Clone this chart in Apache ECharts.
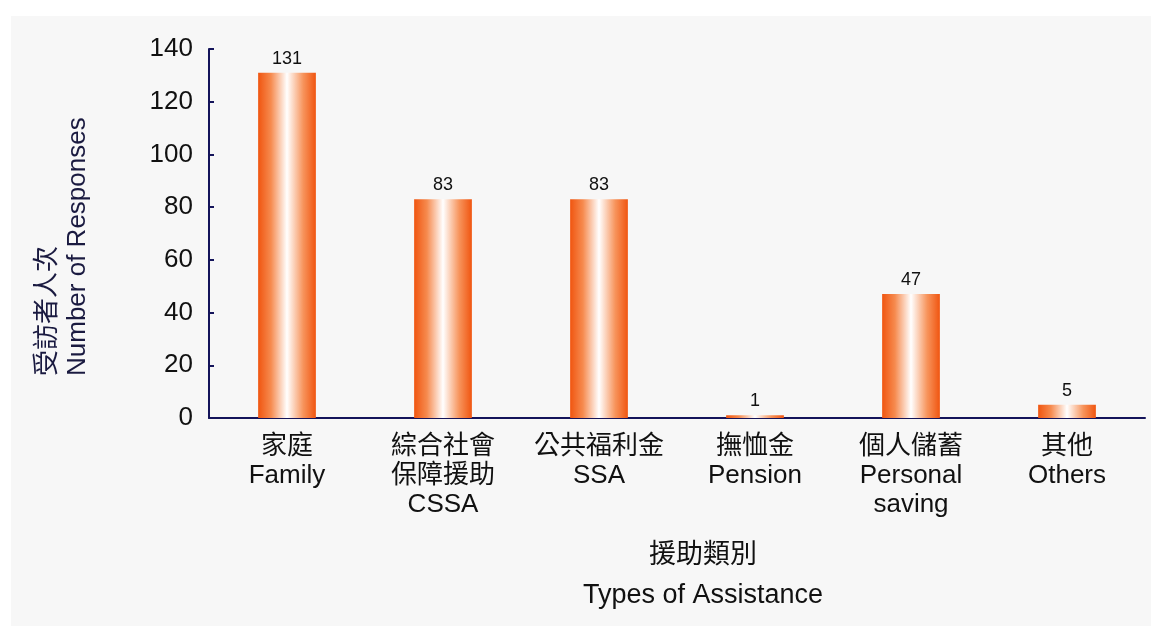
<!DOCTYPE html>
<html>
<head>
<meta charset="utf-8">
<script src="https://cdn.jsdelivr.net/npm/echarts@6/dist/echarts.min.js"></script>
<style>
  html, body { margin: 0; padding: 0; background: #fff; }
  #chart { position: absolute; left: 11px; top: 16px; width: 1140px; height: 610px; background: #f7f7f7; }
</style>
</head>
<body>
<div id="chart"></div>
<script>
// 類別 / categories
const categories = [
  '家庭\nFamily',
  '綜合社會\n保障援助\nCSSA',
  '公共福利金\nSSA',
  '撫恤金\nPension',
  '個人儲蓄\nPersonal\nsaving',
  '其他\nOthers'
]
const responses = [131, 83, 83, 1, 47, 5]
const yTicks = { min: 0, max: 140, interval: 20 }

const axisColor = '#14145a'
const fontEn = '"Liberation Sans", Arial, "Noto Sans CJK TC", sans-serif'

const barColor = new echarts.graphic.LinearGradient(0, 0, 1, 0, [
  { offset: 0, color: '#f05510' },
  { offset: 0.22, color: '#f68a4e' },
  { offset: 0.5, color: '#ffffff' },
  { offset: 0.78, color: '#f7945c' },
  { offset: 1, color: '#f05510' }
])

const chart = echarts.init(document.getElementById('chart'))

chart.setOption({
  animation: false,
  grid: {
    left: 198,
    right: 6,
    top: 33,
    bottom: 208
  },
  xAxis: {
    type: 'category',
    data: categories,
    boundaryGap: true,
    axisLine: { lineStyle: { color: axisColor, width: 2 } },
    axisTick: { inside: true, length: 7, lineStyle: { color: axisColor, width: 2 } },
    axisLabel: {
      interval: 0,
      margin: 14,
      color: '#111',
      fontSize: 26,
      lineHeight: 29,
      fontFamily: fontEn
    },
    name: '援助類別\nTypes of Assistance',
    nameLocation: 'middle',
    nameGap: 118,
    nameTextStyle: {
      color: '#111',
      fontSize: 27,
      lineHeight: 40,
      fontFamily: fontEn,
      padding: [0, 0, 0, 52]
    }
  },
  yAxis: {
    type: 'value',
    min: yTicks.min,
    max: yTicks.max,
    interval: yTicks.interval,
    splitLine: { show: false },
    axisLine: { show: true, lineStyle: { color: axisColor, width: 2 } },
    axisTick: { show: true, inside: true, length: 5, lineStyle: { color: axisColor, width: 2 } },
    axisLabel: {
      margin: 16,
      color: '#111',
      fontSize: 26,
      fontFamily: fontEn
    }
  },
  graphic: [
    {
      type: 'text',
      x: 52,
      y: 360,
      rotation: Math.PI / 2,
      style: {
        text: '受訪者人次\nNumber of Responses',
        font: '26px "Liberation Sans", Arial, "Noto Sans CJK TC", sans-serif',
        lineHeight: 30,
        fill: '#1a1a40',
        align: 'left',
        verticalAlign: 'middle'
      }
    }
  ],
  series: [
    {
      type: 'bar',
      data: responses,
      barWidth: '37%',
      itemStyle: { color: barColor },
      label: {
        show: true,
        position: 'top',
        distance: 5,
        color: '#111',
        fontSize: 18,
        fontFamily: fontEn
      }
    }
  ]
})
</script>
</body>
</html>
